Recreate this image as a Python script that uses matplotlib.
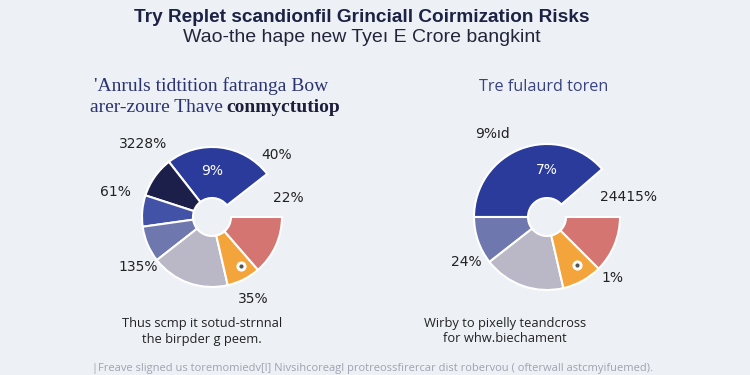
import numpy as np
import matplotlib.pyplot as plt
from matplotlib import font_manager

# -----------------------------
# Data (angles in degrees of each slice, first entry = empty gap)
# -----------------------------
left_sizes = [38, 90, 34, 26, 30, 65, 28, 49]
left_colors = ['none', '#2a3b9b', '#1d1f4b', '#4152a7', '#6f78ae', '#bab7c7', '#f3a43b', '#d47571']
left_labels = ['3228%', '9%', '40%', '61%', '22%', '135%', '35%']

right_sizes = [41, 139, 38, 65, 32, 45]
right_colors = ['none', '#2a3b9b', '#6f78ae', '#bab7c7', '#f3a43b', '#d47571']
right_labels = ['9%ıd', '7%', '24415%', '24%', '1%']

title = "Try Replet scandionfil Grinciall Coirmization Risks"
subtitle = "Wao-the hape new Tyeı E Crore bangkint"
left_head = ["'Anruls tidtition fatranga Bow", "arer-zoure Thave "]
left_head_bold = "conmyctutiop"
right_head = "Tre fulaurd toren"
left_caption = "Thus scmp it sotud-strnnal\nthe birpder g peem."
right_caption = "Wirby to pixelly teandcross\nfor whw.biechament"
footer = ("|Freave sligned us toremomiedv[l] Nivsihcoreagl protreossfirercar "
          "dist robervou ( ofterwall astcmyifuemed).")

# caption font: a narrow face if there is one
names = {f.name for f in font_manager.fontManager.ttflist}
if 'Liberation Sans Narrow' in names:
    cap_font, cap_size = 'Liberation Sans Narrow', 11
else:
    cap_font, cap_size = 'Open Sans', 9.3

# -----------------------------
# Figure
# -----------------------------
fig = plt.figure(figsize=(7.5, 3.75), dpi=100)
fig.patch.set_facecolor('#edf0f5')
ax = fig.add_axes([0, 0, 1, 1])
ax.set_facecolor('#edf0f5')

R = 70
HOLE = 19


def draw_pie(cx, cy, sizes, colors, labels, label_pos, r=R):
    wedges, _ = ax.pie(sizes, colors=colors, startangle=0, counterclock=True,
                       center=(cx, cy), radius=r, frame=True,
                       wedgeprops=dict(width=r - HOLE, edgecolor='white', linewidth=1.5))
    wedges[0].set_visible(False)
    for txt, (px, py, col) in zip(labels, label_pos):
        ax.text(cx + px * r, cy + py * r, txt, ha='center', va='center',
                fontsize=10, color=col, family='DejaVu Sans')


left_pos = [(-0.99, 1.04, '#222'), (0.0, 0.66, 'white'), (0.93, 0.89, '#222'),
            (-1.38, 0.36, '#222'), (1.09, 0.27, '#222'), (-1.06, -0.71, '#222'),
            (0.59, -1.17, '#222')]
draw_pie(212, 158, left_sizes, left_colors, left_labels, left_pos)

right_pos = [(-0.74, 1.14, '#222'), (0.0, 0.64, 'white'), (1.12, 0.27, '#222'),
             (-1.10, -0.62, '#222'), (0.90, -0.84, '#222')]
draw_pie(547, 158, right_sizes, right_colors, right_labels, right_pos, r=73)

# small white dots on orange slices
ax.scatter([241, 577], [109, 110], s=40, color='white', zorder=5)
ax.scatter([241, 577], [109, 110], s=4, color='#555', zorder=6)

ax.set_xlim(0, 750)
ax.set_ylim(0, 375)
ax.set_aspect('equal')
ax.axis('off')

# titles
ax.text(362, 358, title, ha='center', va='center', fontsize=13.7,
        color='#1c2244', family='Liberation Sans', fontweight='bold')
ax.text(362, 337, subtitle, ha='center', va='center', fontsize=14,
        color='#23263a', family='Liberation Sans')

ax.text(211, 289, left_head[0], ha='center', va='center', fontsize=14,
        color='#2b3472', family='Liberation Serif')
ax.text(228, 267, left_head[1], ha='right', va='center', fontsize=14,
        color='#2b3472', family='Liberation Serif')
ax.text(226, 267, left_head_bold, ha='left', va='center', fontsize=14,
        color='#1c1e3a', family='Liberation Serif', fontweight='bold')
ax.text(544, 288, right_head, ha='center', va='center', fontsize=11.7,
        color='#3a4382', family='Open Sans')

ax.text(202, 44, left_caption, ha='center', va='center', fontsize=cap_size,
        color='#222', family=cap_font, linespacing=1.3)
ax.text(505, 44, right_caption, ha='center', va='center', fontsize=cap_size,
        color='#222', family=cap_font, linespacing=1.3)

ax.text(373, 7, footer, ha='center', va='center', fontsize=8,
        color='#a0a3b0', family='Open Sans')

plt.savefig('out.png', dpi=100, facecolor=fig.get_facecolor())
